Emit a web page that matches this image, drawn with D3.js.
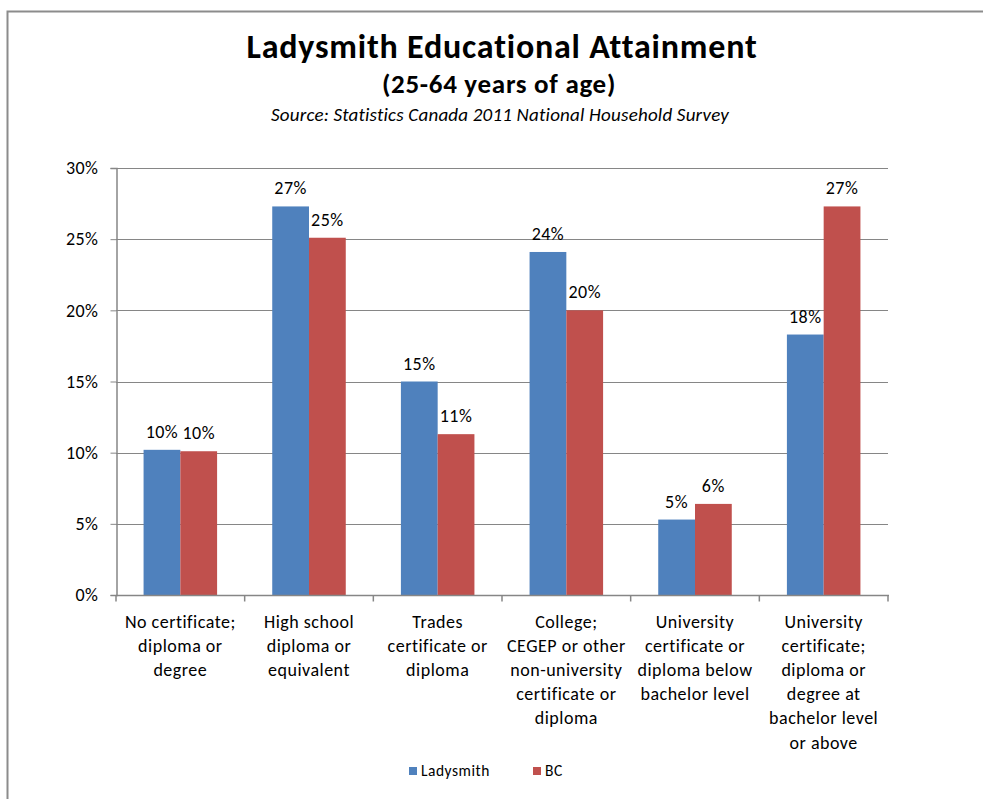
<!DOCTYPE html>
<html><head><meta charset="utf-8">
<script src="https://cdn.jsdelivr.net/npm/d3@7"></script>
<style>
html,body{margin:0;padding:0;background:#fff;}
svg{display:block;font-family:Carlito, Calibri, Lato, "Open Sans", sans-serif;}
</style></head>
<body>
<svg id="chart" width="983" height="799"></svg>
<script>
const categories = [
  ["No certificate;", "diploma or", "degree"],
  ["High school", "diploma or", "equivalent"],
  ["Trades", "certificate or", "diploma"],
  ["College;", "CEGEP or other", "non-university", "certificate or", "diploma"],
  ["University", "certificate or", "diploma below", "bachelor level"],
  ["University", "certificate;", "diploma or", "degree at", "bachelor level", "or above"]
];
const seriesNames = ["Ladysmith", "BC"];
const ladysmith = [10.2, 27.3, 15.0, 24.1, 5.3, 18.3];
const bc = [10.1, 25.1, 11.3, 20.0, 6.4, 27.3];
const ladysmithLabels = ["10%", "27%", "15%", "24%", "5%", "18%"];
const bcLabels = ["10%", "25%", "11%", "20%", "6%", "27%"];
const yTicks = [0, 5, 10, 15, 20, 25, 30];
const colors = ["#4F81BD", "#C0504D"];

const svg = d3.select("#chart");
const pLeft = 116, pRight = 888, pTop = 168, pBottom = 595;

// outer border
svg.append("path").attr("d", "M7.5,799 L7.5,11.5 L983,11.5")
  .attr("fill", "none").attr("stroke", "#8c8c8c").attr("stroke-width", 2);

// titles
svg.append("text").attr("x", 502).attr("y", 58).attr("text-anchor", "middle")
  .attr("font-size", 34).attr("font-weight", "bold").attr("letter-spacing", 0.8).attr("fill", "#000")
  .text("Ladysmith Educational Attainment");
svg.append("text").attr("x", 499).attr("y", 93).attr("text-anchor", "middle")
  .attr("font-size", 27).attr("font-weight", "bold").attr("letter-spacing", 0.7).attr("fill", "#000")
  .text("(25-64 years of age)");
svg.append("text").attr("x", 500).attr("y", 121).attr("text-anchor", "middle")
  .attr("font-size", 19).attr("font-style", "italic").attr("letter-spacing", 0.2).attr("fill", "#000")
  .text("Source:  Statistics  Canada 2011 National Household Survey");

const x0 = d3.scaleBand().domain(d3.range(categories.length)).range([pLeft, pRight]).paddingInner(0).paddingOuter(0);
const x1 = d3.scaleBand().domain([0, 1]).range([0, x0.bandwidth()]).paddingInner(0).paddingOuter(0.75);
const y = d3.scaleLinear().domain([0, 30]).range([pBottom, pTop]);

// gridlines
svg.append("g").selectAll("line").data(yTicks.filter(d => d > 0)).join("line")
  .attr("x1", pLeft).attr("x2", pRight)
  .attr("y1", d => Math.round(y(d)) + 0.5).attr("y2", d => Math.round(y(d)) + 0.5)
  .attr("stroke", "#868686").attr("stroke-width", 1);

// y axis
const yAxis = svg.append("g").attr("transform", `translate(${pLeft + 0.5},0)`)
  .call(d3.axisLeft(y).tickValues(yTicks).tickFormat(d => d + "%").tickSize(6).tickPadding(12));
yAxis.attr("font-family", null);
yAxis.select(".domain").attr("stroke", "#868686").attr("stroke-width", 1.5);
yAxis.selectAll(".tick line").attr("stroke", "#868686");
yAxis.selectAll(".tick text").attr("font-size", 18).attr("letter-spacing", 0.5).attr("fill", "#000");

// bars
const data = categories.map((c, i) => [
  {s: 0, v: ladysmith[i], l: ladysmithLabels[i]},
  {s: 1, v: bc[i], l: bcLabels[i]}
]);
const groups = svg.append("g").selectAll("g").data(data).join("g")
  .attr("transform", (d, i) => `translate(${x0(i)},0)`);
groups.selectAll("rect").data(d => d).join("rect")
  .attr("x", d => x1(d.s)).attr("width", x1.bandwidth())
  .attr("y", d => y(d.v)).attr("height", d => pBottom - y(d.v))
  .attr("fill", d => colors[d.s]);
groups.selectAll("text").data(d => d).join("text")
  .attr("x", d => x1(d.s) + x1.bandwidth() / 2)
  .attr("y", d => y(d.v) - 12)
  .attr("text-anchor", "middle").attr("font-size", 18).attr("letter-spacing", 0.5).attr("fill", "#000")
  .text(d => d.l);

// x axis
const xAxis = svg.append("g").attr("transform", `translate(0,${pBottom + 0.5})`);
xAxis.append("line").attr("x1", pLeft).attr("x2", pRight + 1).attr("stroke", "#868686").attr("stroke-width", 1.5);
xAxis.selectAll("line.tk").data(d3.range(categories.length + 1)).join("line").attr("class", "tk")
  .attr("x1", i => pLeft + i * x0.bandwidth()).attr("x2", i => pLeft + i * x0.bandwidth())
  .attr("y1", 0).attr("y2", 6).attr("stroke", "#868686").attr("stroke-width", 1.5);
const catText = xAxis.selectAll("text").data(categories).join("text")
  .attr("text-anchor", "middle").attr("font-size", 18).attr("letter-spacing", 0.5).attr("fill", "#000")
  .attr("transform", (d, i) => `translate(${x0(i) + x0.bandwidth() / 2},0)`);
catText.selectAll("tspan").data(d => d).join("tspan")
  .attr("x", 0).attr("y", (d, j) => 32 + j * 24.2).text(d => d);

// legend
const legend = svg.append("g").attr("transform", "translate(409,767)");
const lx = [0, 124];
seriesNames.forEach((n, i) => {
  legend.append("rect").attr("x", lx[i]).attr("y", 0).attr("width", 8).attr("height", 8).attr("fill", colors[i]);
  legend.append("text").attr("x", lx[i] + 12).attr("y", 9).attr("font-size", 15.5).attr("letter-spacing", 0.5).attr("fill", "#000").text(n);
});
</script>
</body></html>
